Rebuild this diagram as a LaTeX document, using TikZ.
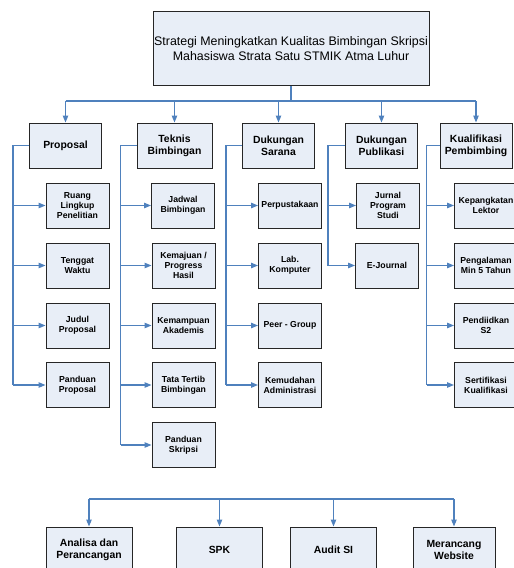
\documentclass[tikz,border=0pt]{standalone}
\usepackage{fontspec}
\setmainfont{Liberation Sans}
\usetikzlibrary{arrows.meta}
\definecolor{linkblue}{HTML}{4F81BD}
\definecolor{boxfill}{HTML}{E8EEF7}
\tikzset{
  box/.style={draw=black!85, line width=1pt, fill=boxfill, align=center, inner sep=1pt},
  titlebox/.style={box, minimum width=276pt, minimum height=74pt, font=\fontsize{12.4}{15}\selectfont},
  groupbox/.style={box, minimum width=72pt, minimum height=45pt, font=\fontsize{10.4}{12.3}\selectfont\bfseries},
  itembox/.style={box, minimum width=63pt, minimum height=45pt, font=\fontsize{8.7}{10}\selectfont\bfseries},
  topicbox/.style={box, minimum width=86pt, minimum height=45pt, font=\fontsize{10.4}{12}\selectfont\bfseries},
  link/.style={draw=linkblue, line width=1.1pt},
  arrow/.style={link, -{Triangle[length=7pt,width=5.5pt]}}
}
\begin{document}
\begin{tikzpicture}[x=1pt,y=-1pt]
\useasboundingbox (0,0) rectangle (514,568);
\node[titlebox] (strategi) at (291,48.5) {Strategi Meningkatkan Kualitas Bimbingan Skripsi\\Mahasiswa Strata Satu STMIK Atma Luhur};

% kelompok strategi
\node[groupbox] (proposal) at (65.5,145.5) {Proposal};
\node[groupbox, minimum width=75pt] (teknis) at (174.5,145.5) {Teknis\\Bimbingan};
\node[groupbox] (sarana) at (278.5,145.5) {Dukungan\\Sarana};
\node[groupbox] (publikasi) at (381.5,145.5) {Dukungan\\Publikasi};
\node[groupbox] (kualifikasi) at (476,145.5) {Kualifikasi\\Pembimbing};

\coordinate (busatas) at (0,101);
\draw[link] (strategi.south) -- (strategi.south |- busatas);
\draw[link] (proposal.north |- busatas) -- (kualifikasi.north |- busatas);
\foreach \g in {proposal,teknis,sarana,publikasi,kualifikasi}
  \draw[arrow] (\g.north |- busatas) -- (\g.north);

% rincian
\node[itembox] (ruang) at (77.5,205.5) {Ruang\\Lingkup\\Penelitian};
\node[itembox] (tenggat) at (77.5,265.5) {Tenggat\\Waktu};
\node[itembox] (judul) at (77.5,325.5) {Judul\\Proposal};
\node[itembox] (pproposal) at (77.5,385) {Panduan\\Proposal};

\node[itembox] (jadwal) at (183,205.5) {Jadwal\\Bimbingan};
\node[itembox] (kemajuan) at (183.5,265.5) {Kemajuan /\\Progress\\Hasil};
\node[itembox] (kemampuan) at (183.5,325.5) {Kemampuan\\Akademis};
\node[itembox] (tatatertib) at (183.5,385) {Tata Tertib\\Bimbingan};
\node[itembox] (pskripsi) at (183.5,445) {Panduan\\Skripsi};

\node[itembox] (perpustakaan) at (290,205.5) {Perpustakaan};
\node[itembox] (lab) at (290,265.5) {Lab.\\Komputer};
\node[itembox] (peer) at (290,325.5) {Peer - Group};
\node[itembox] (kemudahan) at (290,385) {Kemudahan\\Administrasi};

\node[itembox] (jurnal) at (388,205.5) {Jurnal\\Program\\Studi};
\node[itembox] (ejournal) at (387,265.5) {E-Journal};

\node[itembox] (lektor) at (486,205.5) {Kepangkatan\\Lektor};
\node[itembox] (pengalaman) at (486,265.5) {Pengalaman\\Min 5 Tahun};
\node[itembox] (pendidikan) at (486,325.5) {Pendiidkan\\S2};
\node[itembox] (sertifikasi) at (486,385) {Sertifikasi\\Kualifikasi};

\foreach \g/\d/\last/\items in {proposal/16/pproposal/{ruang,tenggat,judul,pproposal},
    teknis/16/pskripsi/{jadwal,kemajuan,kemampuan,tatatertib,pskripsi},
    sarana/16/kemudahan/{perpustakaan,lab,peer,kemudahan},
    publikasi/17/ejournal/{jurnal,ejournal},
    kualifikasi/13/sertifikasi/{lektor,pengalaman,pendidikan,sertifikasi}}
{
  \coordinate (bus) at ([xshift=-\d pt]\g.west);
  \draw[link] (\g.west) -- (bus) -- (bus |- \last.west);
  \foreach \i in \items
    \draw[arrow] (bus |- \i.west) -- (\i.west);
}

% topik penelitian
\node[topicbox] (analisa) at (89,549.5) {Analisa dan\\Perancangan};
\node[topicbox] (spk) at (219.5,549.5) {SPK};
\node[topicbox] (audit) at (333.5,549.5) {Audit SI};
\node[topicbox, minimum width=82pt] (website) at (454,549.5) {Merancang\\Website};

\coordinate (busbawah) at (0,499);
\draw[link] (analisa.north |- busbawah) -- (website.north |- busbawah);
\foreach \t in {analisa,spk,audit,website}
  \draw[arrow] (\t.north |- busbawah) -- (\t.north);
\end{tikzpicture}
\end{document}
